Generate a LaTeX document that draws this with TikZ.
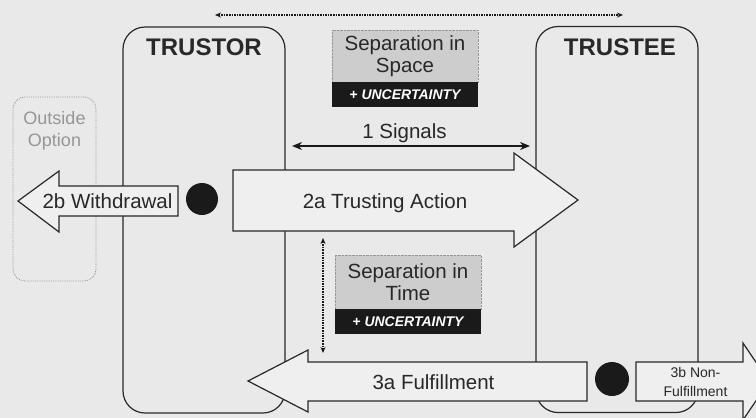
\documentclass[tikz,border=0pt]{standalone}
\usepackage{fontspec}
\setmainfont{Liberation Sans}
\usetikzlibrary{arrows.meta,positioning}

\definecolor{paper}{RGB}{233,233,233}
\definecolor{ink}{RGB}{40,40,40}
\definecolor{shade}{RGB}{205,205,205}
\definecolor{band}{RGB}{26,26,26}
\definecolor{arrowfill}{RGB}{239,239,239}
\definecolor{faint}{RGB}{150,150,150}

\begin{document}
\begin{tikzpicture}[x=1pt,y=-1pt,>=Stealth,font=\fontsize{20.5}{21.5}\selectfont,
    actor/.style={draw=ink,line width=1.2pt,rounded corners=22pt,minimum width=162pt,minimum height=386pt,inner sep=0pt},
    actorname/.style={font=\fontsize{24}{26}\selectfont\bfseries,text=ink,anchor=base},
    sepbox/.style={draw=faint,densely dotted,fill=shade,text=ink,minimum width=146pt,align=center,inner sep=0pt},
    uncbox/.style={fill=band,text=white,font=\fontsize{14}{16}\selectfont\bfseries\itshape,minimum width=146pt,minimum height=25pt,inner sep=0pt},
    blockarrow/.style={draw=ink,line width=1.2pt,fill=arrowfill,line join=miter},
    arrowtext/.style={text=ink,anchor=base},
    choicedot/.style={circle,fill=band,inner sep=0pt},
    spanarrow/.style={{Stealth[length=6pt,width=5pt]}-{Stealth[length=6pt,width=5pt]},densely dotted,line width=1.6pt,draw=band}]
    \fill [paper] (0,0) rectangle (756,418);
    \useasboundingbox (0,0) rectangle (756,418);

    % the two parties
    \node [actor] (trustor) at (204,220) {};
    \node [actor] (trustee) at (617,219.5) {};
    \node [actorname] (trustorname) at (204,55) {TRUSTOR};
    \node [actorname] (trusteename) at (620,55) {TRUSTEE};

    \node [draw=faint,densely dotted,thick,rounded corners=12pt,minimum width=83pt,minimum height=184pt] (outside) at (54.5,189) {};
    \node [text=faint,align=center,font=\fontsize{18}{22}\selectfont] (outsidetext) at (54.5,131) {Outside\\Option};

    % separation boxes
    \node [sepbox,minimum height=52pt] (spacesep) at (405,56) {Separation in\\Space};
    \node [uncbox,below=0pt of spacesep] (spaceunc) {+ UNCERTAINTY};
    \node [sepbox,minimum height=54pt] (timesep) at (408,282) {Separation in\\Time};
    \node [uncbox,below=0pt of timesep] (timeunc) {+ UNCERTAINTY};

    \coordinate (spaceleft) at (215,15);
    \coordinate (spaceright) at (623,15);
    \draw [spanarrow] (spaceleft) -- (spaceright);
    \coordinate (timetop) at (323,238);
    \coordinate (timebottom) at (323,353);
    \draw [spanarrow] (timetop) -- (timebottom);

    % signals
    \node [arrowtext] (signals) at (404.5,138) {1 Signals};
    \coordinate (sigleft) at (292,146);
    \coordinate (sigright) at (530,146);
    \draw [{Stealth[length=10pt,width=8pt]}-{Stealth[length=10pt,width=8pt]},line width=1.8pt,draw=band] (sigleft) -- (sigright);

    % block arrows
    \draw [blockarrow] (178,186) -- (59,186) -- (59,171) -- (18,201) -- (59,232) -- (59,216) -- (178,216) -- cycle;
    \draw [blockarrow] (233,170) -- (514,170) -- (514,153) -- (578,200) -- (514,247) -- (514,231) -- (233,231) -- cycle;
    \draw [blockarrow] (587,362) -- (308,362) -- (308,350) -- (248,381) -- (308,412) -- (308,401) -- (587,401) -- cycle;
    \draw [blockarrow] (636,362) -- (743,362) -- (743,343) -- (769,381.5) -- (743,420) -- (743,401) -- (636,401) -- cycle;

    \node [arrowtext] (withdrawal) at (107.5,208) {2b Withdrawal};
    \node [arrowtext] (trusting) at (385,208) {2a Trusting Action};
    \node [arrowtext] (fulfilment) at (433.5,389) {3a Fulfillment};
    \node [text=ink,align=center,font=\fontsize{14}{19}\selectfont] (nonfulfilment) at (695.5,381.5) {3b Non-\\Fulfillment};

    % decision points
    \node [choicedot,minimum size=32pt] (trustordot) at (202,199) {};
    \node [choicedot,minimum size=34pt] (trusteedot) at (612,379) {};
\end{tikzpicture}
\end{document}
